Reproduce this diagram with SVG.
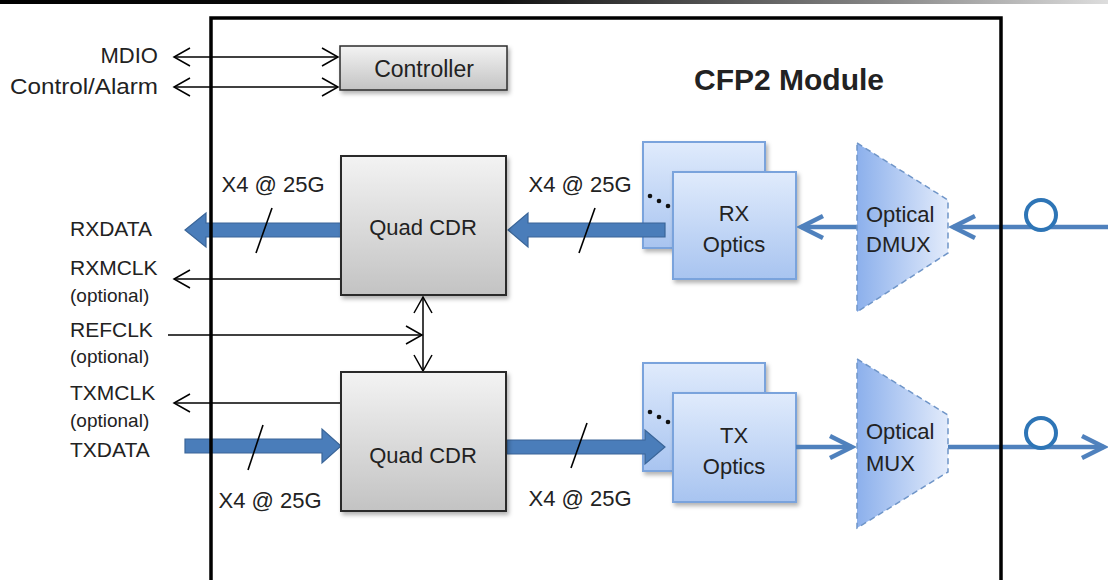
<svg xmlns="http://www.w3.org/2000/svg" width="1108" height="580" viewBox="0 0 1108 580">
<defs>
<style>
text{font-family:"Liberation Sans",Arial,sans-serif;fill:#222;}
.lbl{font-size:21px;}
.opt{font-size:19px;}
.box{font-size:22px;text-anchor:middle;}
.thin{stroke:#000;stroke-width:1.5;fill:none;}
.slash{stroke:#000;stroke-width:1.6;}
.fat{fill:#4a7dba;stroke:#3a6598;stroke-width:1.2;}
.blue{stroke:#4f81bd;stroke-width:4.5;fill:none;}
.ring{fill:#fff;stroke:#2e75b6;stroke-width:4;}
.cdr{fill:url(#gGray);stroke:#2b2b2b;stroke-width:2;filter:url(#sh);}
.optx{fill:url(#gBlue);stroke:#7aa3dc;stroke-width:2;filter:url(#sh);}
.tri{fill:url(#gTri);stroke:#6f95c8;stroke-width:1.5;stroke-dasharray:6 4;}
</style>
<linearGradient id="gBar" x1="0" y1="0" x2="1" y2="0">
<stop offset="0" stop-color="#000"/><stop offset="0.45" stop-color="#111"/><stop offset="0.8" stop-color="#888"/><stop offset="1" stop-color="#ddd"/>
</linearGradient>
<linearGradient id="gGray" x1="0" y1="0" x2="0" y2="1">
<stop offset="0" stop-color="#f3f3f3"/><stop offset="1" stop-color="#c3c3c3"/>
</linearGradient>
<linearGradient id="gBlue" x1="0" y1="0" x2="0" y2="1">
<stop offset="0" stop-color="#e0ebfc"/><stop offset="1" stop-color="#a8c4f0"/>
</linearGradient>
<linearGradient id="gTri" x1="0" y1="0" x2="1" y2="0">
<stop offset="0" stop-color="#8cb0ec"/><stop offset="1" stop-color="#e2ebfb"/>
</linearGradient>
<filter id="sh" x="-10%" y="-10%" width="130%" height="130%">
<feDropShadow dx="2" dy="3" stdDeviation="2" flood-color="#000" flood-opacity="0.3"/>
</filter>
<marker id="ah" viewBox="0 0 20 20" refX="18" refY="10" markerWidth="20" markerHeight="20" markerUnits="userSpaceOnUse" orient="auto-start-reverse">
<path d="M2,1 L18,10 L2,19" fill="none" stroke="#000" stroke-width="1.5"/>
</marker>
<marker id="bh" viewBox="0 0 28 28" refX="24" refY="14" markerWidth="28" markerHeight="28" markerUnits="userSpaceOnUse" orient="auto">
<path d="M2,3 L24,14 L2,25" fill="none" stroke="#4f81bd" stroke-width="4.5"/>
</marker>
</defs>

<rect x="0" y="0" width="1108" height="4" fill="url(#gBar)"/>

<g id="labels">
<text class="lbl" x="158" y="63" text-anchor="end" style="font-size:22px">MDIO</text>
<text class="lbl" x="10" y="94" textLength="148" lengthAdjust="spacingAndGlyphs" style="font-size:22px">Control/Alarm</text>
<text class="lbl" x="70" y="236">RXDATA</text>
<text class="lbl" x="70" y="275">RXMCLK</text>
<text class="opt" x="70" y="302">(optional)</text>
<text class="lbl" x="70" y="337">REFCLK</text>
<text class="opt" x="70" y="363">(optional)</text>
<text class="lbl" x="70" y="400">TXMCLK</text>
<text class="opt" x="70" y="427">(optional)</text>
<text class="lbl" x="70" y="457">TXDATA</text>
<text class="box" x="273" y="192">X4 @ 25G</text>
<text class="box" x="580" y="192">X4 @ 25G</text>
<text class="box" x="270" y="508">X4 @ 25G</text>
<text class="box" x="580" y="506">X4 @ 25G</text>
<text x="789" y="90" text-anchor="middle" style="font-size:30px;font-weight:bold;">CFP2 Module</text>
</g>

<g id="controller">
<rect x="340" y="46" width="167" height="44" class="cdr" style="stroke-width:1.5"/>
<text class="box" x="424" y="77" style="font-size:23px">Controller</text>
</g>

<g id="rx-optics">
<rect x="643" y="142" width="122" height="106" class="optx"/>
<rect x="673" y="172" width="123" height="107" class="optx"/>
<circle cx="650" cy="196" r="2.3" fill="#111"/><circle cx="659" cy="201" r="2.3" fill="#111"/><circle cx="668" cy="206" r="2.3" fill="#111"/>
<text class="box" x="734" y="221">RX</text>
<text class="box" x="734" y="252">Optics</text>
</g>

<g id="tx-optics">
<rect x="643" y="363" width="122" height="108" class="optx"/>
<rect x="673" y="393" width="123" height="109" class="optx"/>
<circle cx="650" cy="412" r="2.3" fill="#111"/><circle cx="659" cy="417" r="2.3" fill="#111"/><circle cx="668" cy="422" r="2.3" fill="#111"/>
<text class="box" x="734" y="443">TX</text>
<text class="box" x="734" y="474">Optics</text>
</g>

<g id="connectors">
<line x1="174" y1="57" x2="338" y2="57" class="thin" marker-start="url(#ah)" marker-end="url(#ah)"/>
<line x1="174" y1="87" x2="338" y2="87" class="thin" marker-start="url(#ah)" marker-end="url(#ah)"/>
<line x1="341" y1="279" x2="174" y2="279" class="thin" marker-end="url(#ah)"/>
<line x1="168" y1="335" x2="422" y2="335" class="thin" marker-end="url(#ah)"/>
<line x1="423" y1="297" x2="423" y2="371" class="thin" marker-start="url(#ah)" marker-end="url(#ah)"/>
<line x1="341" y1="403" x2="174" y2="403" class="thin" marker-end="url(#ah)"/>
<polygon class="fat" points="341,223 206,223 206,213 185,230 206,247 206,237 341,237"/>
<polygon class="fat" points="665,223 528,223 528,213 508,230 528,247 528,237 665,237"/>
<polygon class="fat" points="185,439 322,439 322,429 341,446 322,463 322,453 185,453"/>
<polygon class="fat" points="507,440 645,440 645,430 665,447 645,464 645,454 507,454"/>
<line class="slash" x1="272" y1="208" x2="256" y2="253"/>
<line class="slash" x1="595" y1="208" x2="579" y2="253"/>
<line class="slash" x1="263" y1="425" x2="248" y2="470"/>
<line class="slash" x1="587" y1="423" x2="571" y2="468"/>
<line class="blue" x1="857" y1="227" x2="801" y2="227" marker-end="url(#bh)"/>
<line class="blue" x1="1108" y1="227" x2="953" y2="227" marker-end="url(#bh)"/>
<line class="blue" x1="796" y1="447" x2="852" y2="447" marker-end="url(#bh)"/>
<line class="blue" x1="948" y1="447" x2="1104" y2="447" marker-end="url(#bh)"/>
<circle class="ring" cx="1041" cy="215" r="15"/>
<circle class="ring" cx="1041" cy="433" r="15"/>
</g>

<g id="cdr-rx">
<rect x="341" y="156" width="165" height="139" class="cdr"/>
<text class="box" x="423" y="235">Quad CDR</text>
</g>

<g id="cdr-tx">
<rect x="341" y="372" width="165" height="139" class="cdr"/>
<text class="box" x="423" y="463">Quad CDR</text>
</g>

<g id="dmux">
<polygon class="tri" points="857,143 948,200 948,253 857,312"/>
<text class="box" x="866" y="222" style="text-anchor:start">Optical</text>
<text class="box" x="866" y="252" style="text-anchor:start">DMUX</text>
</g>

<g id="mux">
<polygon class="tri" points="857,359 948,415 948,472 857,528"/>
<text class="box" x="866" y="439" style="text-anchor:start">Optical</text>
<text class="box" x="866" y="471" style="text-anchor:start">MUX</text>
</g>

<g id="module">
<path d="M211,582 V18 H1001 V582" fill="none" stroke="#000" stroke-width="3.5"/>
</g>
</svg>
